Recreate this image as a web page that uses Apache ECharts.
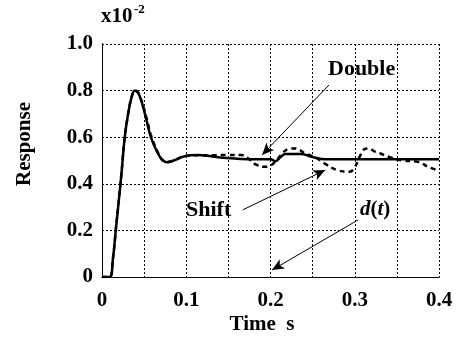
<!DOCTYPE html>
<html><head><meta charset="utf-8">
<script src="https://cdn.jsdelivr.net/npm/echarts@6/dist/echarts.min.js"></script>
<style>html,body{margin:0;padding:0;background:#fff}#c{width:460px;height:343px}</style>
</head><body><div id="c"></div>
<script>
// Tick labels
var xTicks = [0, 0.1, 0.2, 0.3, 0.4];
var yTicks = [0, 0.2, 0.4, 0.6, 0.8, 1.0];
// Solid curve (t, response x1e-2)
var solidT = [0, 0.009, 0.013, 0.0166, 0.02, 0.023, 0.027, 0.031, 0.035, 0.039, 0.043, 0.048, 0.053, 0.058, 0.065, 0.071, 0.077, 0.085, 0.095, 0.105, 0.115, 0.125, 0.14, 0.16, 0.18, 0.2, 0.206, 0.212, 0.218, 0.236, 0.25, 0.265, 0.3, 0.35, 0.4];
var solidV = [0, 0, 0.08, 0.21, 0.33, 0.44, 0.60, 0.70, 0.77, 0.80, 0.79, 0.74, 0.67, 0.60, 0.54, 0.505, 0.493, 0.50, 0.515, 0.523, 0.524, 0.52, 0.513, 0.508, 0.505, 0.505, 0.497, 0.515, 0.528, 0.528, 0.515, 0.505, 0.505, 0.505, 0.505];
// Dashed curve
var dashT = [0, 0.009, 0.013, 0.0166, 0.02, 0.023, 0.027, 0.031, 0.035, 0.039, 0.043, 0.048, 0.053, 0.058, 0.065, 0.071, 0.077, 0.085, 0.095, 0.105, 0.115, 0.13, 0.15, 0.165, 0.175, 0.183, 0.193, 0.2, 0.207, 0.215, 0.222, 0.229, 0.241, 0.255, 0.263, 0.279, 0.294, 0.3, 0.305, 0.312, 0.316, 0.324, 0.33, 0.34, 0.356, 0.375, 0.387, 0.4];
var dashV = [0, 0, 0.08, 0.21, 0.33, 0.44, 0.60, 0.70, 0.77, 0.80, 0.79, 0.745, 0.68, 0.61, 0.545, 0.505, 0.493, 0.50, 0.515, 0.522, 0.522, 0.522, 0.524, 0.524, 0.505, 0.482, 0.473, 0.478, 0.50, 0.535, 0.55, 0.552, 0.531, 0.51, 0.49, 0.459, 0.452, 0.47, 0.51, 0.55, 0.552, 0.538, 0.531, 0.516, 0.50, 0.495, 0.473, 0.456];
// Annotation arrows: [from t, from v, to t, to v]
var arrowDouble = [0.2694, 0.824, 0.190, 0.524];
var arrowShift = [0.167, 0.288, 0.265, 0.459];
var arrowD = [0.304, 0.245, 0.2018, 0.03];

function pairs(t, v){ return t.map(function(x,i){ return [x, v[i]]; }); }
function arrow(a){ return [{coord:[a[0],a[1]]},{coord:[a[2],a[3]]}]; }

var FONT = '"Liberation Serif","Times New Roman",serif';
var FS = 21;
var chart = echarts.init(document.getElementById('c'), null, {renderer:'canvas'});
var axisText = {fontFamily: FONT, fontWeight:'bold', fontSize:FS, color:'#000'};
chart.setOption({
  animation:false,
  backgroundColor:'#fff',
  grid:{left:102, right:21, top:44, bottom:66, containLabel:false},
  xAxis:[{
    type:'value', min:0, max:0.4, interval:0.05,
    axisLine:{show:true, lineStyle:{color:'#000', width:1, type:'dotted'}},
    axisTick:{show:false},
    splitLine:{show:true, lineStyle:{color:'#000', width:1, type:[2,2]}},
    axisLabel:Object.assign({margin:13, formatter:function(v){
      var k = Math.round(v*100);
      if (k % 10 !== 0) return '';
      var idx = xTicks.indexOf(k/100);
      return idx < 0 ? '' : (k===0 ? '0' : (k/100).toFixed(1));
    }}, axisText)
  },{
    type:'value', min:0, max:0.4, position:'top',
    axisLine:{show:true, lineStyle:{color:'#000', width:1}},
    axisTick:{show:false}, axisLabel:{show:false}, splitLine:{show:false}
  }],
  yAxis:[{
    type:'value', min:0, max:1.0, interval:0.2,
    axisLine:{show:true, lineStyle:{color:'#000', width:1}},
    axisTick:{show:false},
    splitLine:{show:true, lineStyle:{color:'#000', width:1, type:[2,2]}},
    axisLabel:Object.assign({margin:9, formatter:function(v){
      var k = Math.round(v*10);
      return k===0 ? '0' : (k/10).toFixed(1);
    }}, axisText)
  },{
    type:'value', min:0, max:1.0, position:'right',
    axisLine:{show:true, lineStyle:{color:'#000', width:1}},
    axisTick:{show:false}, axisLabel:{show:false}, splitLine:{show:false}
  }],
  series:[{
    type:'line', data:pairs(dashT, dashV), smooth:0.4, symbol:'none',
    lineStyle:{color:'#000', width:2.5, type:[5,4]}, z:3
  },{
    type:'line', data:pairs(solidT, solidV), smooth:0.4, symbol:'none',
    lineStyle:{color:'#000', width:2.5}, z:4,
    markLine:{
      silent:true, symbol:['none','arrow'], symbolSize:[8,12],
      lineStyle:{color:'#000', width:1, type:'solid'},
      label:{show:false},
      data:[arrow(arrowDouble), arrow(arrowShift), arrow(arrowD)]
    }
  }],
  graphic:[
    {type:'text', x:25, y:144, rotation:Math.PI/2, style:{text:'Response', font:'bold ' + FS + 'px ' + FONT, fill:'#000', align:'center', verticalAlign:'middle'}},
    {type:'text', x:262, y:325, style:{text:'Time  s', font:'bold ' + FS + 'px ' + FONT, fill:'#000', align:'center', verticalAlign:'middle'}},
    {type:'text', left:101, top:6, style:{text:'x10', font:'bold ' + FS + 'px ' + FONT, fill:'#000'}},
    {type:'text', left:134, top:3, style:{text:'-2', font:'bold 13px ' + FONT, fill:'#000'}},
    {type:'text', left:328, top:58, style:{text:'Double', font:'bold 22px ' + FONT, fill:'#000'}},
    {type:'text', left:186, top:199, style:{text:'Shift', font:'bold 22px ' + FONT, fill:'#000'}},
    {type:'text', left:360, top:199, style:{
      text:'{i|d}{n|(}{i|t}{n|)}',
      rich:{
        i:{fontFamily:FONT, fontWeight:'bold', fontStyle:'italic', fontSize:21, fill:'#000'},
        n:{fontFamily:FONT, fontWeight:'bold', fontSize:21, fill:'#000'}
      }}}
  ]
});
</script></body></html>
